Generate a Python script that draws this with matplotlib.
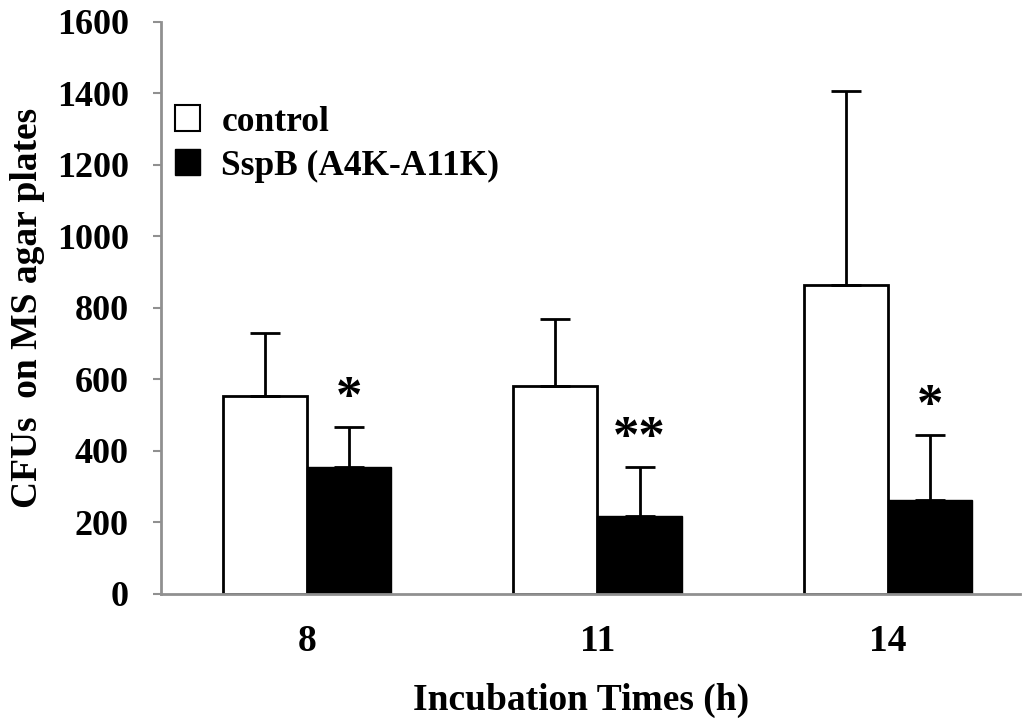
import matplotlib
matplotlib.use("Agg")
import matplotlib.pyplot as plt
import numpy as np
from matplotlib.patches import Patch

categories = ["8", "11", "14"]
control_mean = [554, 582, 864]
control_err = [176, 187, 543]
sspb_mean = [355, 218, 261]
sspb_err = [112, 137, 183]
stars = ["*", "**", "*"]
yticks = [0, 200, 400, 600, 800, 1000, 1200, 1400, 1600]

plt.rcParams['font.family'] = ['Liberation Serif', 'DejaVu Serif']
plt.rcParams['font.weight'] = 'bold'

fig = plt.figure(figsize=(10.24, 7.25), dpi=100)
ax_rect = [0.157, 0.181, 0.839, 0.789]
ax = fig.add_axes(ax_rect)

x = np.arange(len(categories))
w = 0.29
ax.bar(x - w/2, control_mean, w, color='white', edgecolor='black', linewidth=2,
       yerr=[np.zeros(3), control_err], error_kw=dict(ecolor='black', elinewidth=2, capsize=11, capthick=2),
       zorder=2)
ax.bar(x + w/2, sspb_mean, w, color='black', edgecolor='black', linewidth=1,
       yerr=[np.zeros(3), sspb_err], error_kw=dict(ecolor='black', elinewidth=2, capsize=11, capthick=2),
       zorder=2)

for i, s in enumerate(stars):
    top = sspb_mean[i] + sspb_err[i]
    ax.text(x[i] + w/2, top + 12, s, ha='center', va='bottom', fontsize=38, fontweight='bold')

ax.set_xlim(-0.503, 2.454)
ax.set_ylim(0, 1600)
ax.set_yticks(yticks)
ax.set_yticklabels([str(t) for t in yticks], fontsize=26, fontweight='bold')
ax.set_xticks(x)
ax.set_xticklabels(categories, fontsize=27, fontweight='bold')
ax.tick_params(axis='x', length=0, pad=22)
ax.tick_params(axis='y', length=6, width=1.5, color='#909090', pad=17)

for s in ['top', 'right']:
    ax.spines[s].set_visible(False)
for s in ['left', 'bottom']:
    ax.spines[s].set_color('#909090')
    ax.spines[s].set_linewidth(2)

fig.text(0.027, ax_rect[1] + ax_rect[3] / 2, "CFUs  on MS agar plates", rotation=90,
         ha='center', va='center', fontsize=27, fontweight='bold')
fig.text(0.567, 0.034, "Incubation Times (h)", ha='center', va='center',
         fontsize=27, fontweight='bold')

handles = [Patch(facecolor='white', edgecolor='black', linewidth=1.5, label='control'),
           Patch(facecolor='black', edgecolor='black', label='SspB (A4K-A11K)')]
ax.legend(handles=handles, loc='upper left', bbox_to_anchor=(-0.012, 0.897), frameon=False,
          prop=dict(size=25.5, weight='bold'), handlelength=0.7, handleheight=0.75,
          handletextpad=0.6, labelspacing=0.3, borderaxespad=0.3)

fig.savefig("out.png", dpi=100)
